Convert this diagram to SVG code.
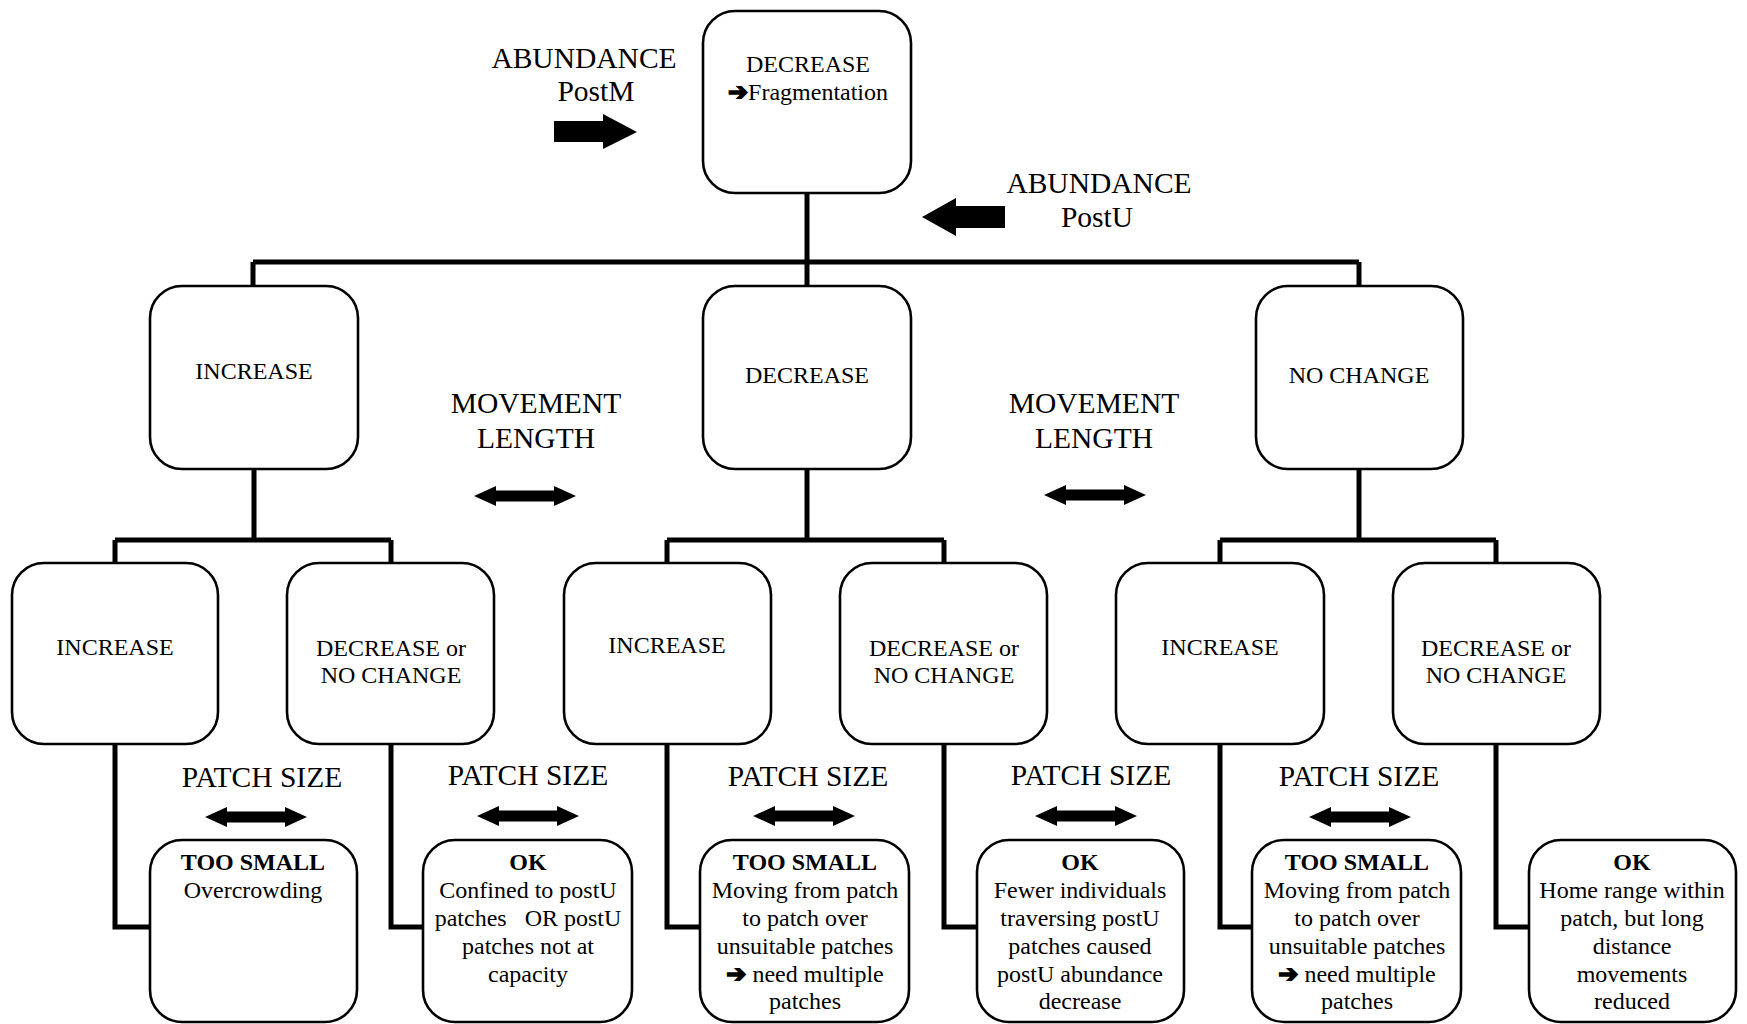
<svg xmlns="http://www.w3.org/2000/svg" width="1747" height="1024" viewBox="0 0 1747 1024">
<defs>
<style>
.box{fill:#fff;stroke:#000;stroke-width:2.6}
.t{font-family:"Liberation Serif","Times New Roman",serif;font-size:24px;fill:#000;text-anchor:middle}
.b{font-weight:bold}
.lbl{font-family:"Liberation Serif","Times New Roman",serif;font-size:29.5px;fill:#000;text-anchor:middle}
.ar{font-family:"DejaVu Sans",sans-serif;font-size:24px;font-weight:bold;stroke:#000;stroke-width:1.6}
.conn{fill:none;stroke:#000;stroke-width:5;stroke-linejoin:miter}
.arrow{fill:#000}
</style>
<path id="dbl" d="M0,0 L22,-10 L22,-5.5 L80,-5.5 L80,-10 L102,0 L80,10 L80,5.5 L22,5.5 L22,10 Z"/>
</defs>
<rect width="1747" height="1024" fill="#fff"/>

<g id="connectors">
<path class="conn" d="M807,193 V262 M253,262 H1359 M253,262 V286 M807,262 V286 M1359,262 V286"/>
<path class="conn" d="M254,469 V540 M115,540 H391 M115,540 V563 M391,540 V563"/>
<path class="conn" d="M807,469 V540 M667,540 H944 M667,540 V563 M944,540 V563"/>
<path class="conn" d="M1359,469 V540 M1220,540 H1496 M1220,540 V563 M1496,540 V563"/>
<path class="conn" d="M115,744 V927 H150"/>
<path class="conn" d="M391,744 V927 H423"/>
<path class="conn" d="M667,744 V927 H700"/>
<path class="conn" d="M944,744 V927 H977"/>
<path class="conn" d="M1220,744 V927 H1252"/>
<path class="conn" d="M1496,744 V927 H1529"/>
</g>

<g id="labels">
<text class="lbl" x="584" y="68">ABUNDANCE</text>
<text class="lbl" x="596" y="101">PostM</text>
<path class="arrow" d="M554,121 H603 V114 L637,132 L603,149 V142 H554 Z"/>
<text class="lbl" x="1099" y="193">ABUNDANCE</text>
<text class="lbl" x="1097" y="227">PostU</text>
<path class="arrow" d="M1005,206 H956 V198 L922,217 L956,236 V228 H1005 Z"/>
<text class="lbl" x="536" y="413">MOVEMENT</text>
<text class="lbl" x="536" y="448">LENGTH</text>
<use href="#dbl" x="474" y="496"/>
<text class="lbl" x="1094" y="413">MOVEMENT</text>
<text class="lbl" x="1094" y="448">LENGTH</text>
<use href="#dbl" x="1044" y="495"/>
<text class="lbl" x="262" y="787">PATCH SIZE</text>
<use href="#dbl" x="205" y="817"/>
<text class="lbl" x="528" y="785">PATCH SIZE</text>
<use href="#dbl" x="477" y="816"/>
<text class="lbl" x="808" y="786">PATCH SIZE</text>
<use href="#dbl" x="753" y="816"/>
<text class="lbl" x="1091" y="785">PATCH SIZE</text>
<use href="#dbl" x="1035" y="816"/>
<text class="lbl" x="1359" y="786">PATCH SIZE</text>
<use href="#dbl" x="1309" y="817"/>
</g>

<g id="n-top">
<rect class="box" x="703" y="11" width="208" height="182" rx="32"/>
<text class="t" x="808" y="72">DECREASE</text>
<text class="t" x="808" y="100"><tspan class="ar">➔</tspan>Fragmentation</text>
</g>

<g id="n-l2-increase">
<rect class="box" x="150" y="286" width="208" height="183" rx="32"/>
<text class="t" x="254" y="379">INCREASE</text>
</g>
<g id="n-l2-decrease">
<rect class="box" x="703" y="286" width="208" height="183" rx="32"/>
<text class="t" x="807" y="383">DECREASE</text>
</g>
<g id="n-l2-nochange">
<rect class="box" x="1256" y="286" width="207" height="183" rx="32"/>
<text class="t" x="1359" y="383">NO CHANGE</text>
</g>

<g id="n-l3-1">
<rect class="box" x="12" y="563" width="206" height="181" rx="32"/>
<text class="t" x="115" y="655">INCREASE</text>
</g>
<g id="n-l3-2">
<rect class="box" x="287" y="563" width="207" height="181" rx="32"/>
<text class="t" x="391" y="656">DECREASE or</text>
<text class="t" x="391" y="683">NO CHANGE</text>
</g>
<g id="n-l3-3">
<rect class="box" x="564" y="563" width="207" height="181" rx="32"/>
<text class="t" x="667" y="653">INCREASE</text>
</g>
<g id="n-l3-4">
<rect class="box" x="840" y="563" width="207" height="181" rx="32"/>
<text class="t" x="944" y="656">DECREASE or</text>
<text class="t" x="944" y="683">NO CHANGE</text>
</g>
<g id="n-l3-5">
<rect class="box" x="1116" y="563" width="208" height="181" rx="32"/>
<text class="t" x="1220" y="655">INCREASE</text>
</g>
<g id="n-l3-6">
<rect class="box" x="1393" y="563" width="207" height="181" rx="32"/>
<text class="t" x="1496" y="656">DECREASE or</text>
<text class="t" x="1496" y="683">NO CHANGE</text>
</g>

<g id="n-l4-1">
<rect class="box" x="150" y="840" width="207" height="182" rx="32"/>
<text class="t b" x="253" y="870">TOO SMALL</text>
<text class="t" x="253" y="898">Overcrowding</text>
</g>
<g id="n-l4-2">
<rect class="box" x="423" y="840" width="209" height="182" rx="32"/>
<text class="t b" x="528" y="870">OK</text>
<text class="t" x="528" y="898">Confined to postU</text>
<text class="t" x="528" y="926" xml:space="preserve">patches   OR postU</text>
<text class="t" x="528" y="954">patches not at</text>
<text class="t" x="528" y="982">capacity</text>
</g>
<g id="n-l4-3">
<rect class="box" x="700" y="840" width="209" height="182" rx="32"/>
<text class="t b" x="805" y="870">TOO SMALL</text>
<text class="t" x="805" y="898">Moving from patch</text>
<text class="t" x="805" y="926">to patch over</text>
<text class="t" x="805" y="954">unsuitable patches</text>
<text class="t" x="805" y="982"><tspan class="ar">➔</tspan> need multiple</text>
<text class="t" x="805" y="1009">patches</text>
</g>
<g id="n-l4-4">
<rect class="box" x="977" y="840" width="207" height="182" rx="32"/>
<text class="t b" x="1080" y="870">OK</text>
<text class="t" x="1080" y="898">Fewer individuals</text>
<text class="t" x="1080" y="926">traversing postU</text>
<text class="t" x="1080" y="954">patches caused</text>
<text class="t" x="1080" y="982">postU abundance</text>
<text class="t" x="1080" y="1009">decrease</text>
</g>
<g id="n-l4-5">
<rect class="box" x="1252" y="840" width="209" height="182" rx="32"/>
<text class="t b" x="1357" y="870">TOO SMALL</text>
<text class="t" x="1357" y="898">Moving from patch</text>
<text class="t" x="1357" y="926">to patch over</text>
<text class="t" x="1357" y="954">unsuitable patches</text>
<text class="t" x="1357" y="982"><tspan class="ar">➔</tspan> need multiple</text>
<text class="t" x="1357" y="1009">patches</text>
</g>
<g id="n-l4-6">
<rect class="box" x="1529" y="840" width="207" height="182" rx="32"/>
<text class="t b" x="1632" y="870">OK</text>
<text class="t" x="1632" y="898">Home range within</text>
<text class="t" x="1632" y="926">patch, but long</text>
<text class="t" x="1632" y="954">distance</text>
<text class="t" x="1632" y="982">movements</text>
<text class="t" x="1632" y="1009">reduced</text>
</g>
</svg>
